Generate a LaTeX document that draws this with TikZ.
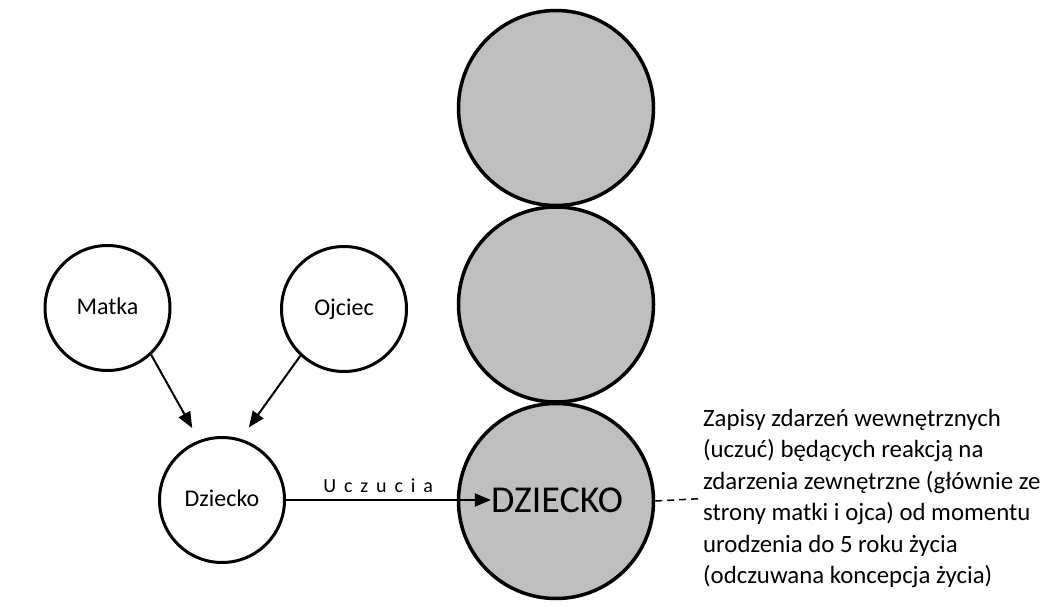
\documentclass[tikz,border=0pt]{standalone}
\usepackage{fontspec}
\setmainfont{Carlito}
\usetikzlibrary{arrows.meta,calc}
\definecolor{fillgray}{HTML}{BFBFBF}
\begin{document}
\begin{tikzpicture}[x=1pt,y=-1pt,
  small/.style={circle,draw=black,line width=3pt,fill=white,minimum size=125pt,inner sep=0pt,text height=17pt,text depth=5pt,font=\fontsize{24}{28}\selectfont},
  big/.style={circle,draw=black,line width=3.5pt,fill=fillgray,minimum size=195pt,inner sep=0pt},
  arr/.style={line width=2pt,-{Triangle[length=16pt,width=13pt]}},
  lbl/.style={inner sep=0pt,font=\fontsize{24.8}{31.4}\selectfont}]
\useasboundingbox (0,0) rectangle (1063,607);
\node[small] (matka) at (107.5,308) {Matka};
\node[small] (ojciec) at (344,309) {Ojciec};
\node[small] (dz) at (222,500) {Dziecko};
\node[big] (c1) at (556,108) {};
\node[big] (c2) at (556,304.5) {};
\node[big] (c3) at (556,501) {};
\node[inner sep=0pt,font=\fontsize{38}{42}\selectfont] (DZ) at (557,500) {DZIECKO};
\node[lbl,anchor=west,align=left] (txt) at (703,498.5) {Zapisy zdarzeń wewnętrznych\\(uczuć) będących reakcją na\\zdarzenia zewnętrzne (głównie ze\\strony matki i ojca) od momentu\\urodzenia do 5 roku życia\\(odczuwana koncepcja życia)};
\draw[arr,shorten >=14pt] (matka.-47) -- (dz.111);
\draw[arr,shorten >=14pt] (ojciec.-133) -- (dz.73);
\draw[arr] (dz.east) -- (DZ.west) node[pos=0.45,above=6pt,inner sep=0pt,font=\fontsize{20}{24}\selectfont] {U\,\ c\,\ z\,\ u\,\ c\,\ i\,\ a};
\coordinate (dashend) at ($(txt.west)+(0,0)$);
\draw[line width=1.5pt,dash pattern=on 7pt off 5pt] (c3.east) -- (dashend);
\end{tikzpicture}
\end{document}
